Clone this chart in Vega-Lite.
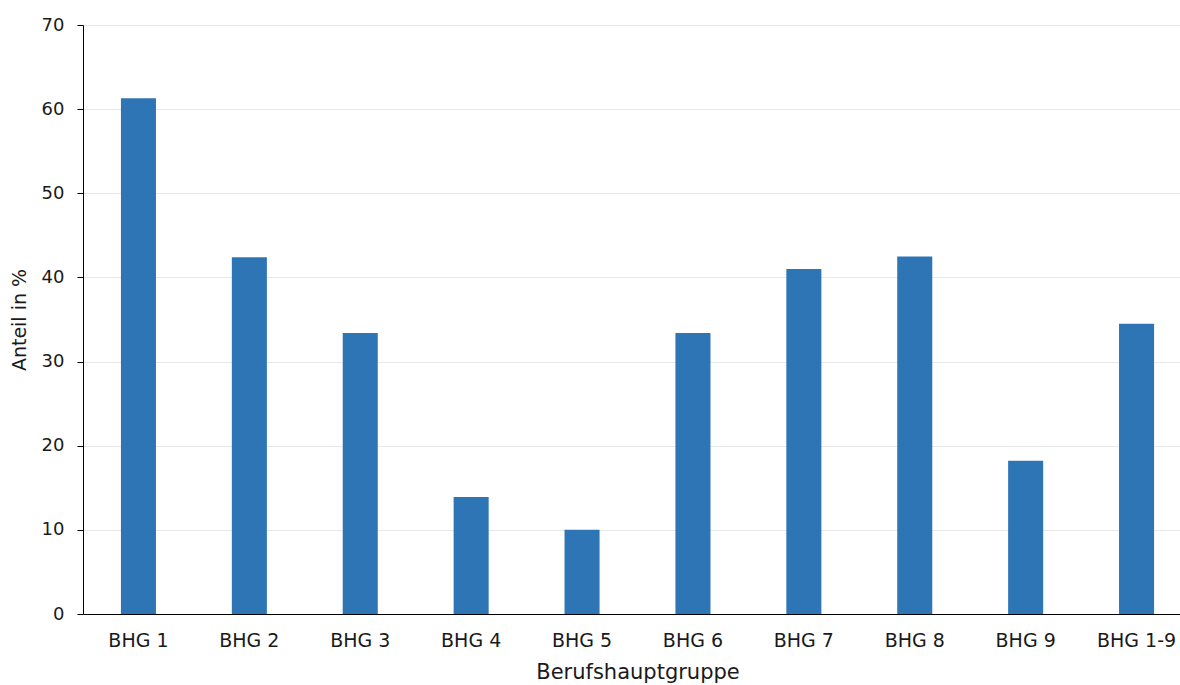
{
  "$schema": "https://vega.github.io/schema/vega-lite/v6.json",
  "autosize": {"type": "none"},
  "width": 1109,
  "height": 589,
  "padding": {"left": 83, "top": 25, "right": 0, "bottom": 71},
  "background": "white",
  "config": {
    "view": {"stroke": null},
    "font": "DejaVu Sans"
  },
  "data": {
    "values": [
      {"gruppe": "BHG 1", "anteil": 61.3},
      {"gruppe": "BHG 2", "anteil": 42.4},
      {"gruppe": "BHG 3", "anteil": 33.4},
      {"gruppe": "BHG 4", "anteil": 13.9},
      {"gruppe": "BHG 5", "anteil": 10.0},
      {"gruppe": "BHG 6", "anteil": 33.4},
      {"gruppe": "BHG 7", "anteil": 41.0},
      {"gruppe": "BHG 8", "anteil": 42.5},
      {"gruppe": "BHG 9", "anteil": 18.2},
      {"gruppe": "BHG 1-9", "anteil": 34.5}
    ]
  },
  "mark": {"type": "bar", "color": "#2e75b6"},
  "encoding": {
    "x": {
      "field": "gruppe",
      "type": "nominal",
      "sort": null,
      "scale": {"paddingInner": 0.684, "paddingOuter": 0.342},
      "axis": {
        "title": "Berufshauptgruppe",
        "labelAngle": 0,
        "ticks": false,
        "domainColor": "#000000",
        "domainWidth": 1,
        "labelFontSize": 19,
        "labelColor": "#1a1a1a",
        "labelPadding": 17,
        "titleFontSize": 21,
        "titleFontWeight": "normal",
        "titleColor": "#1a1a1a",
        "titlePadding": 11
      }
    },
    "y": {
      "field": "anteil",
      "type": "quantitative",
      "scale": {"domain": [0, 70]},
      "axis": {
        "title": "Anteil in %",
        "values": [0, 10, 20, 30, 40, 50, 60, 70],
        "domainColor": "#000000",
        "tickColor": "#000000",
        "tickSize": 6,
        "gridColor": "#e8e8e8",
        "gridWidth": 1,
        "labelFontSize": 18,
        "labelColor": "#1a1a1a",
        "labelPadding": 13,
        "titleFontSize": 19,
        "titleFontWeight": "normal",
        "titleColor": "#1a1a1a",
        "titlePadding": 12
      }
    }
  }
}
